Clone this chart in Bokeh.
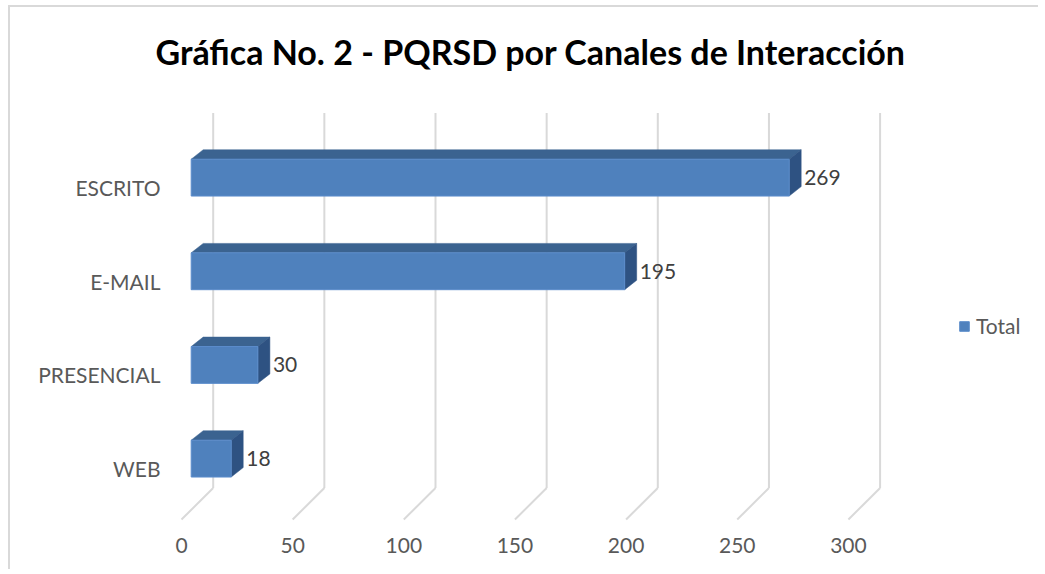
from bokeh.plotting import figure
from bokeh.models import (LinearAxis, FixedTicker, Legend, LegendItem,
                          ColumnDataSource, Range1d)
from bokeh.embed import file_html
from bokeh.resources import INLINE
from bokeh.core.properties import value

# ---------------- data ----------------
categories = ["WEB", "PRESENCIAL", "E-MAIL", "ESCRITO"]
totals = [18, 30, 195, 269]
x_ticks = [0, 50, 100, 150, 200, 250, 300]
series_name = "Total"
title_text = "Gráfica No. 2 - PQRSD por Canales de Interacción"

# ---------------- layout constants (page pixels) ----------------
W, H = 1030, 564
ORIG_X, ORIG_Y = 10, 7           # canvas origin on the page (css margin + border)
FRAME_L, FRAME_R = 168, ORIG_X + W
FRAME_T, FRAME_B = 93, 525
X0_PX, SX = 181.0, 2.223         # page x of value 0 (front plane), px per unit
Y0_PX, SY = 467.8, 94.1          # page y of first category (front plane), px per category

def px2x(p):
    return (p - X0_PX) / SX

def px2y(p):
    return (Y0_PX - p) / SY

def ddx(d):
    return d / SX

def ddy(d):
    return d / SY

BAR_FX, BAR_FY = 9.7, 10.0        # bar front face depth shift
BAR_H = 37.0
BAR_DX, BAR_DY = 12.0, 9.5        # bar depth
WALL_D = 31.7                     # back wall depth shift (45 deg)
FLOOR_PX = 519.0
WALL_TOP_PX = 110.7

FONT = "Lato"
TXT = "#595959"
FRONT = "#4f81bd"
TOP = "#3b6390"
SIDE = "#2e5282"
GRID = "#d9d9d9"

p = figure(width=W, height=H, output_backend="svg", toolbar_location=None,
           x_range=Range1d(px2x(FRAME_L), px2x(FRAME_R)),
           y_range=Range1d(px2y(FRAME_B), px2y(FRAME_T)),
           x_axis_type=None, y_axis_type=None,
           min_border_left=FRAME_L - ORIG_X, min_border_right=0,
           min_border_top=FRAME_T - ORIG_Y, min_border_bottom=H - (FRAME_B - ORIG_Y),
           outline_line_color=None, background_fill_color="white",
           border_fill_color="white")
p.styles = {"margin-left": "8px", "margin-top": "5px",
            "border-left": "2px solid #d9d9d9", "border-top": "2px solid #d9d9d9"}

# ---------------- title ----------------
p.title.text = title_text
p.title.align = "left"
p.title.vertical_align = "middle"
p.title.offset = 155 - FRAME_L
p.title.standoff = 45
p.title.text_font = FONT
p.title.text_font_style = "bold"
p.title.text_font_size = "34px"
p.title.text_color = "black"

# ---------------- axes ----------------
xaxis = LinearAxis(ticker=FixedTicker(ticks=x_ticks),
                   axis_line_color=None, major_tick_line_color=None,
                   minor_tick_line_color=None, major_tick_in=0, major_tick_out=0,
                   major_label_text_font=FONT, major_label_text_font_size="21px",
                   major_label_text_color=TXT, major_label_standoff=12)
p.add_layout(xaxis, "below")

cat_pos = list(range(len(categories)))
yaxis = LinearAxis(ticker=FixedTicker(ticks=cat_pos),
                   major_label_overrides={i: c for i, c in zip(cat_pos, categories)},
                   axis_line_color=None, major_tick_line_color=None,
                   minor_tick_line_color=None, major_tick_in=0, major_tick_out=0,
                   major_label_text_font=FONT, major_label_text_font_size="21px",
                   major_label_text_color=TXT, major_label_standoff=8)
p.add_layout(yaxis, "left")

# ---------------- 3D walls: gridlines + floor diagonals ----------------
floor_y = px2y(FLOOR_PX)
wall_bottom = floor_y + ddy(WALL_D)
wall_top = px2y(WALL_TOP_PX)
gx = [t + ddx(WALL_D) for t in x_ticks]
p.segment(x0=gx, y0=[wall_bottom] * len(gx), x1=gx, y1=[wall_top] * len(gx),
          line_color=GRID, line_width=2)
p.segment(x0=x_ticks, y0=[floor_y] * len(x_ticks), x1=gx, y1=[wall_bottom] * len(gx),
          line_color=GRID, line_width=2)

# ---------------- bars ----------------
left = [ddx(BAR_FX)] * len(totals)
right = [v + ddx(BAR_FX) for v in totals]
bottom = [c + ddy(BAR_FY) - ddy(BAR_H / 2) for c in cat_pos]
top = [c + ddy(BAR_FY) + ddy(BAR_H / 2) for c in cat_pos]
dX, dY = ddx(BAR_DX), ddy(BAR_DY)

top_xs = [[l, l + dX, r + dX, r] for l, r in zip(left, right)]
top_ys = [[t, t + dY, t + dY, t] for t in top]
side_xs = [[r, r + dX, r + dX, r] for r in right]
side_ys = [[b, b + dY, t + dY, t] for b, t in zip(bottom, top)]

p.patches(xs=top_xs, ys=top_ys, fill_color=TOP, line_color=TOP, line_width=0.5)
p.patches(xs=side_xs, ys=side_ys, fill_color=SIDE, line_color=SIDE, line_width=0.5)
front = p.quad(left=left, right=right, bottom=bottom, top=top,
               fill_color=FRONT, line_color="#5a8ccb", line_width=1)

# ---------------- value labels ----------------
lab_src = ColumnDataSource(dict(
    x=[v + ddx(BAR_FX + BAR_DX + 3) for v in totals],
    y=[c + ddy(BAR_FY) for c in cat_pos],
    t=[str(v) for v in totals]))
p.text(x="x", y="y", text="t", source=lab_src, text_font=value(FONT),
       text_font_size="21px", text_color="#404040",
       text_align="left", text_baseline="middle")

# ---------------- legend ----------------
legend = Legend(items=[LegendItem(label=series_name, renderers=[front])],
                location=(958 - FRAME_L, FRAME_B - 338),
                glyph_width=12, glyph_height=12, label_standoff=6,
                label_text_font=FONT, label_text_font_size="21px",
                label_text_color=TXT, padding=0, margin=0, spacing=0,
                border_line_alpha=0, background_fill_alpha=0)
p.add_layout(legend)

open("out.html", "w").write(file_html(p, INLINE))
